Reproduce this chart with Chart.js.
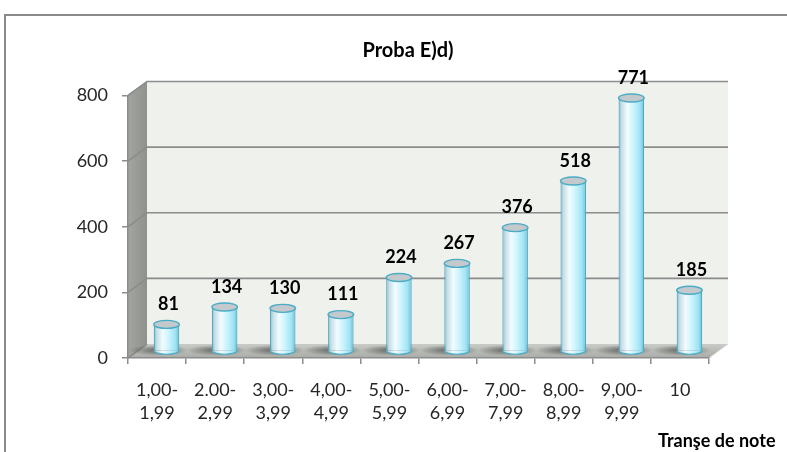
<!DOCTYPE html>
<html>
<head>
<meta charset="utf-8">
<script src="https://cdn.jsdelivr.net/npm/chart.js@4/dist/chart.umd.min.js"></script>
<style>
  html, body { margin: 0; padding: 0; background: #ffffff; overflow: hidden; }
  #wrap { position: relative; width: 787px; height: 452px; }
</style>
</head>
<body>
<div id="wrap"><canvas id="c" width="787" height="452"></canvas></div>
<script>
// ---- data ----
const categories = [
  ["1,00-", "1,99"], ["2.00-", "2,99"], ["3,00-", "3,99"], ["4,00-", "4,99"],
  ["5,00-", "5,99"], ["6,00-", "6,99"], ["7,00-", "7,99"], ["8,00-", "8,99"],
  ["9,00-", "9,99"], ["10"]
];
const values = [81, 134, 130, 111, 224, 267, 376, 518, 771, 185];
const yTicks = [0, 200, 400, 600, 800];
const chartTitle = "Proba E)d)";
const xAxisTitle = "Tranşe de note";

// ---- 3D look constants ----
const WALL_DX = 19, WALL_DY = -14;   // back wall offset
const BAR_DX = 9.5, BAR_DY = -7;     // bar (mid-depth) offset
const FONT = "Lato, 'Open Sans', 'Noto Sans', sans-serif";

function barGradient(ctx, x0, x1) {
  const g = ctx.createLinearGradient(x0, 0, x1, 0);
  g.addColorStop(0.0, '#8fb6c2');
  g.addColorStop(0.12, '#c6dfe6');
  g.addColorStop(0.35, '#f2fcff');
  g.addColorStop(0.6, '#c9f3fd');
  g.addColorStop(0.85, '#9ee3f4');
  g.addColorStop(1.0, '#6fb9cb');
  return g;
}

const decor = {
  id: 'decor',
  beforeDraw(chart) {
    const ctx = chart.ctx;
    const a = chart.chartArea;
    const y = chart.scales.y;
    ctx.save();
    // outer frame
    ctx.strokeStyle = '#8a8a8a';
    ctx.lineWidth = 2;
    ctx.strokeRect(5, 15, 820, 480);
    const top = y.getPixelForValue(800), bot = y.getPixelForValue(0);
    // back wall
    ctx.fillStyle = '#eff1ec';
    ctx.fillRect(a.left + WALL_DX, top + WALL_DY, a.right - a.left, bot - top);
    // side wall
    const sg = ctx.createLinearGradient(a.left, 0, a.left + WALL_DX, 0);
    sg.addColorStop(0, '#a3a5a1');
    sg.addColorStop(1, '#8f918d');
    ctx.fillStyle = sg;
    ctx.beginPath();
    ctx.moveTo(a.left, top);
    ctx.lineTo(a.left + WALL_DX, top + WALL_DY);
    ctx.lineTo(a.left + WALL_DX, bot + WALL_DY);
    ctx.lineTo(a.left, bot);
    ctx.closePath();
    ctx.fill();
    ctx.strokeStyle = '#c8cac6';
    ctx.lineWidth = 1;
    ctx.beginPath();
    ctx.moveTo(a.left, top);
    ctx.lineTo(a.left + WALL_DX, top + WALL_DY);
    ctx.stroke();
    // floor
    const fg = ctx.createLinearGradient(0, bot + WALL_DY, 0, bot);
    fg.addColorStop(0, '#c9cbc7');
    fg.addColorStop(1, '#a9aba7');
    ctx.fillStyle = fg;
    ctx.beginPath();
    ctx.moveTo(a.left, bot);
    ctx.lineTo(a.right, bot);
    ctx.lineTo(a.right + WALL_DX, bot + WALL_DY);
    ctx.lineTo(a.left + WALL_DX, bot + WALL_DY);
    ctx.closePath();
    ctx.fill();
    ctx.strokeStyle = '#d6d8d4';
    ctx.beginPath();
    ctx.moveTo(a.right, bot);
    ctx.lineTo(a.right + WALL_DX, bot + WALL_DY);
    ctx.stroke();
    // gridlines on back wall + side wall diagonals
    ctx.strokeStyle = '#8c8c8c';
    ctx.lineWidth = 1.6;
    yTicks.forEach(v => {
      const py = y.getPixelForValue(v);
      ctx.beginPath();
      ctx.moveTo(a.left, py);
      ctx.lineTo(a.left + WALL_DX, py + WALL_DY);
      if (v !== 0) ctx.lineTo(a.right + WALL_DX, py + WALL_DY);
      ctx.stroke();
    });
    // shadows on floor under bars
    const meta = chart.getDatasetMeta(0);
    meta.data.forEach(el => {
      const cx = el.x + BAR_DX - 8, cy = el.base + BAR_DY;
      if (!isFinite(cx) || !isFinite(cy)) return;
      ctx.save();
      ctx.translate(cx, cy);
      ctx.scale(1, 0.18);
      const rg = ctx.createRadialGradient(0, 0, 0, 0, 0, 30);
      rg.addColorStop(0, 'rgba(70,72,70,0.75)');
      rg.addColorStop(1, 'rgba(70,72,70,0)');
      ctx.fillStyle = rg;
      ctx.beginPath();
      ctx.arc(0, 0, 30, 0, Math.PI * 2);
      ctx.fill();
      ctx.restore();
    });
    ctx.restore();
  },
  beforeDatasetsDraw(chart) {
    chart.ctx.save();
    chart.ctx.translate(BAR_DX, BAR_DY);
  },
  afterDatasetsDraw(chart) {
    const ctx = chart.ctx;
    const meta = chart.getDatasetMeta(0);
    meta.data.forEach(el => {
      const rx = el.width / 2, ry = 4;
      const x0 = el.x - rx, x1 = el.x + rx;
      if (!isFinite(x0) || !isFinite(x1)) return;
      // bottom cap
      ctx.fillStyle = barGradient(ctx, x0, x1);
      ctx.beginPath();
      ctx.ellipse(el.x, el.base, rx, ry, 0, 0, Math.PI);
      ctx.fill();
      ctx.strokeStyle = '#4bacc6';
      ctx.lineWidth = 1.2;
      ctx.beginPath();
      ctx.ellipse(el.x, el.base, rx, ry, 0, 0, Math.PI);
      ctx.stroke();
      // top cap
      ctx.fillStyle = '#c3c9cc';
      ctx.beginPath();
      ctx.ellipse(el.x, el.y, rx, ry, 0, 0, Math.PI * 2);
      ctx.fill();
      ctx.strokeStyle = '#4bacc6';
      ctx.lineWidth = 1.4;
      ctx.stroke();
    });
    ctx.restore();
    // data labels
    ctx.save();
    ctx.font = "bold 18px " + FONT;
    ctx.fillStyle = '#000000';
    ctx.textAlign = 'center';
    ctx.textBaseline = 'middle';
    meta.data.forEach((el, i) => {
      ctx.fillText(String(values[i]), el.x + BAR_DX + 2, el.y + BAR_DY - 20);
    });
    // chart title
    ctx.font = "bold 20px " + FONT;
    ctx.fillText(chartTitle, 408, 51);
    // x axis title (extends past right edge like the reference)
    ctx.font = "bold 18px " + FONT;
    ctx.textAlign = 'left';
    ctx.textBaseline = 'alphabetic';
    ctx.fillText(xAxisTitle, 658, 447);
    ctx.restore();
  }
};

new Chart(document.getElementById('c'), {
  type: 'bar',
  data: {
    labels: categories,
    datasets: [{
      data: values,
      backgroundColor: (c) => {
        const xs = c.chart.scales.x;
        if (!xs) return '#c9f3fd';
        const cx = xs.getPixelForValue(c.dataIndex);
        const w = (xs.width / categories.length) * 0.44;
        if (!isFinite(cx) || !isFinite(w) || w <= 0) return '#c9f3fd';
        return barGradient(c.chart.ctx, cx - w / 2, cx + w / 2);
      },
      borderColor: '#4bacc6',
      borderWidth: { left: 1.2, right: 1.2, top: 0, bottom: 0 },
      borderSkipped: false,
      categoryPercentage: 1,
      barPercentage: 0.44
    }]
  },
  options: {
    responsive: false,
    animation: false,
    layout: { padding: { left: 0, right: 78, top: 95.5, bottom: 0 } },
    plugins: {
      legend: { display: false },
      tooltip: { enabled: false },
      title: { display: false }
    },
    scales: {
      x: {
        grid: { drawOnChartArea: false, drawTicks: true, tickLength: 6, color: '#8c8c8c', lineWidth: 1.5 },
        border: { display: true, color: '#8c8c8c', width: 1.5 },
        ticks: {
          color: '#262626',
          font: { family: FONT, size: 18, lineHeight: 1.25 },
          padding: 15,
          maxRotation: 0, minRotation: 0, autoSkip: false
        },
        afterFit: (s) => { s.height = 94; }
      },
      y: {
        min: 0, max: 800,
        grid: { drawOnChartArea: false, drawTicks: true, tickLength: 6, color: '#8c8c8c', lineWidth: 1.5 },
        border: { display: true, color: '#8c8c8c', width: 1.5 },
        ticks: {
          stepSize: 200,
          color: '#262626',
          font: { family: FONT, size: 18 },
          padding: 14
        },
        afterFit: (s) => { s.width = 128; }
      }
    }
  },
  plugins: [decor]
});
</script>
</body>
</html>
